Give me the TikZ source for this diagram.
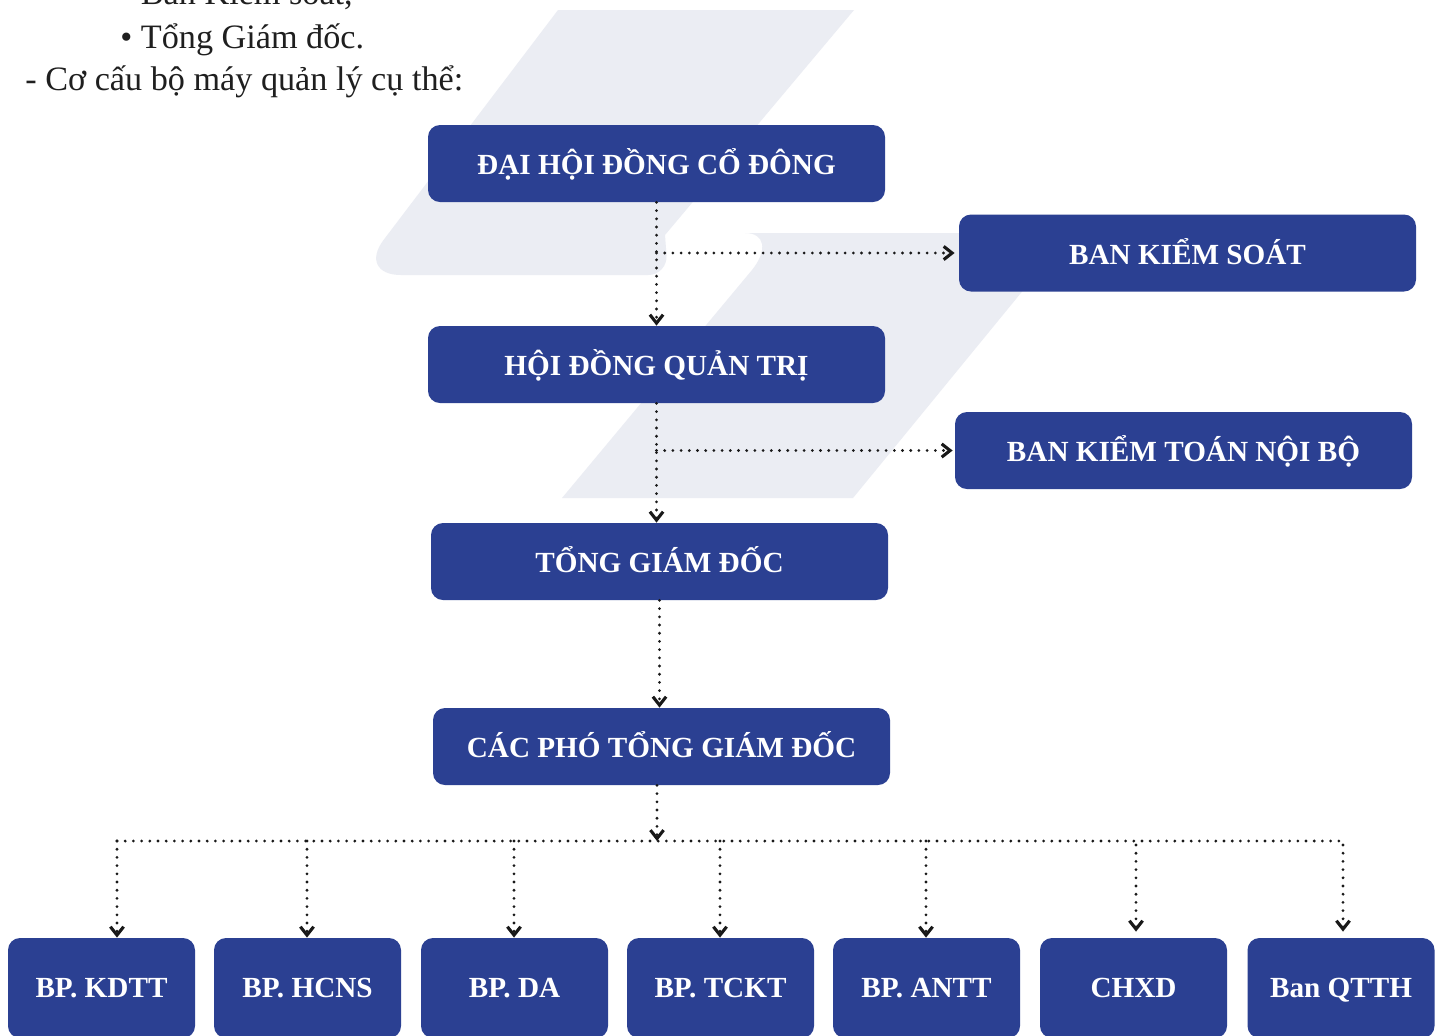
\documentclass[tikz,border=0pt]{standalone}
\usepackage{fontspec}
\setmainfont{Liberation Serif}
\usetikzlibrary{arrows.meta}
\definecolor{boxblue}{RGB}{43,64,146}
\definecolor{wmgrey}{RGB}{235,237,243}
\begin{document}
\begin{tikzpicture}[x=0.5pt,y=-0.5pt,
  orgbox/.style={fill=boxblue, rounded corners=6pt, text=white,
    font=\fontsize{14.6}{16}\selectfont\bfseries,
    minimum width=228.5pt, minimum height=38.5pt, inner sep=0pt,
    text height=11pt, text depth=0pt},
  smallbox/.style={orgbox, minimum width=93.5pt, minimum height=50pt, text height=11pt, text depth=2pt},
  dotline/.style={draw=black!90, line width=1.55pt, dash pattern=on 0pt off 4.1pt, line cap=round},
  link/.style={dotline, -{Straight Barb[length=4.2pt,width=6.6pt]}},
  bodytext/.style={anchor=base west, inner sep=0pt, text=black!88,
    font=\fontsize{17.1}{20}\selectfont}]
\clip (0,0) rectangle (1443,1035);
\fill[white] (0,0) rectangle (1443,1035);
% watermark
\fill[wmgrey] (558,10) -- (854,10) -- (665,235) [rounded corners=10] -- (668,275) [rounded corners=22] -- (357,275) [sharp corners] -- cycle;
\fill[wmgrey] (562,498) -- (752,270) .. controls (768,250) and (765,233) .. (745,233)
  -- (1070,233) -- (853,498) -- cycle;
% intro text
\node[bodytext] (t0) at (120,4) {• Ban Kiểm soát,};
\node[bodytext] (t1) at (120,48) {• Tổng Giám đốc.};
\node[bodytext] (t2) at (25,90) {- Cơ cấu bộ máy quản lý cụ thể:};
% boxes
\node[orgbox] (dh) at (656.5,163.5) {ĐẠI HỘI ĐỒNG CỔ ĐÔNG};
\node[orgbox] (bks) at (1187.5,253) {BAN KIỂM SOÁT};
\node[orgbox] (hd) at (656.5,364.5) {HỘI ĐỒNG QUẢN TRỊ};
\node[orgbox] (bkt) at (1183.5,450.5) {BAN KIỂM TOÁN NỘI BỘ};
\node[orgbox] (tgd) at (659.5,561.5) {TỔNG GIÁM ĐỐC};
\node[orgbox] (cp) at (661.5,746.5) {CÁC PHÓ TỔNG GIÁM ĐỐC};
\node[smallbox] (b1) at (101.5,988) {BP. KDTT};
\node[smallbox] (b2) at (307.5,988) {BP. HCNS};
\node[smallbox] (b3) at (514.5,988) {BP. DA};
\node[smallbox] (b4) at (720.5,988) {BP. TCKT};
\node[smallbox] (b5) at (926.5,988) {BP. ANTT};
\node[smallbox] (b6) at (1133.5,988) {CHXD};
\node[smallbox] (b7) at (1341,988) {Ban QTTH};
% connectors
\draw[link] (dh.south) -- (hd.north);
\draw[link] (dh.south |- bks.west) -- ([xshift=-2pt]bks.west);
\draw[link] (hd.south) -- (hd.south |- tgd.north);
\draw[link] (hd.south |- bkt.west) -- ([xshift=-1pt]bkt.west);
\draw[link] (tgd.south) -- (tgd.south |- cp.north);
\coordinate (bc) at (657,841);
\draw[link] (bc |- cp.south) -- (bc);
\coordinate (bL) at (117,841);
\coordinate (bR) at (1343,841);
\draw[dotline] (bL) -- (bR);
\coordinate (d1) at (117,841);
\coordinate (d2) at (307,841);
\coordinate (d3) at (514,841);
\coordinate (d4) at (720,841);
\coordinate (d5) at (926,841);
\coordinate (d6) at (1136,841);
\coordinate (d7) at (1343,841);
\draw[link] (d1) -- (d1 |- b1.north);
\draw[link] (d2) -- (d2 |- b2.north);
\draw[link] (d3) -- (d3 |- b3.north);
\draw[link] (d4) -- (d4 |- b4.north);
\draw[link] (d5) -- (d5 |- b5.north);
\draw[link] ([yshift=-2pt]d6) -- ([yshift=3pt]d6 |- b6.north);
\draw[link] ([yshift=-2pt]d7) -- ([yshift=3pt]d7 |- b7.north);
\end{tikzpicture}
\end{document}
